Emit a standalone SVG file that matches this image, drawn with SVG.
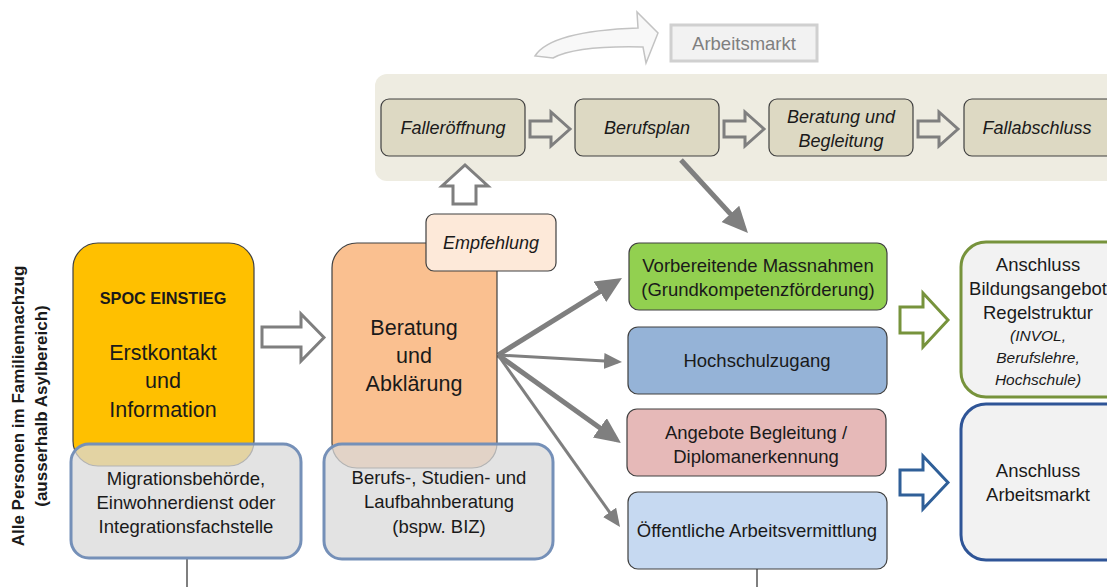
<svg xmlns="http://www.w3.org/2000/svg" width="1107" height="587" viewBox="0 0 1107 587">
<defs>
<style>
text{font-family:"Liberation Sans",Arial,sans-serif;fill:#1a1a1a;text-anchor:middle}
.t{font-size:18.5px}
.big{font-size:21.5px}
.it{font-style:italic;font-size:18px}
.its{font-style:italic;font-size:15.5px}
.proc{fill:#DDD9C3;stroke:#404040;stroke-width:1.2}
.gbox{fill:#D9D9D9;fill-opacity:0.75;stroke:#7590B8;stroke-width:3}
.blk{fill:none;stroke:#7F7F7F;stroke-width:3;stroke-linejoin:miter}
.con{stroke:#7F7F7F;fill:none}
.thick{stroke-width:5}
.thin{stroke-width:3}
</style>
<marker id="hb" markerUnits="userSpaceOnUse" markerWidth="28" markerHeight="26" refX="20" refY="12" orient="auto">
<path d="M0,0 L26,12 L0,24 Z" fill="#7F7F7F"/>
</marker>
<marker id="hs" markerUnits="userSpaceOnUse" markerWidth="20" markerHeight="18" refX="14" refY="8" orient="auto">
<path d="M0,0 L18,8 L0,16 Z" fill="#7F7F7F"/>
</marker>
<path id="parr" d="M0,-8 H21 V-17 L40,0 L21,17 V8 H0 Z"/>
</defs>

<!-- top band -->
<rect x="375" y="74" width="760" height="107" rx="12" fill="#EEECE1"/>

<!-- curved arrow to Arbeitsmarkt -->
<path d="M535,56 C545,40 580,30 638,28 L637,12 L658,33 L646,63 L643,47 C600,46 568,50 553,58 Z" fill="#F8F8F8" stroke="#C3C3C3" stroke-width="1.5"/>

<g id="arbeitsmarkt">
<rect x="671" y="25" width="146" height="36" fill="#F2F2F2" stroke="#D0D0D0" stroke-width="3"/>
<text x="744" y="50" class="t" style="fill:#7F7F7F">Arbeitsmarkt</text>
</g>

<g id="falleroeffnung">
<rect x="381" y="99" width="144" height="57" rx="8" class="proc"/>
<text x="453" y="134" class="it">Falleröffnung</text>
</g>
<g id="berufsplan">
<rect x="575" y="99" width="144" height="57" rx="8" class="proc"/>
<text x="647" y="134" class="it">Berufsplan</text>
</g>
<g id="beratung-begleitung">
<rect x="769" y="99" width="144" height="57" rx="8" class="proc"/>
<text x="841" y="123" class="it">Beratung und</text>
<text x="841" y="147" class="it">Begleitung</text>
</g>
<g id="fallabschluss">
<rect x="964" y="99" width="160" height="57" rx="8" class="proc"/>
<text x="1037" y="134" class="it">Fallabschluss</text>
</g>

<g id="connectors">
<use href="#parr" x="530" y="129" class="blk"/>
<use href="#parr" x="724" y="129" class="blk"/>
<use href="#parr" x="918" y="129" class="blk"/>
<path d="M453,204 V186 H442 L465,165 L488,186 H476 V204 Z" fill="#FFFFFF" stroke="#7F7F7F" stroke-width="3"/>
<path d="M262,327 H301 V314 L324,337.5 L301,361 V347 H262 Z" fill="#FFFFFF" stroke="#7F7F7F" stroke-width="3"/>
<path d="M900,307 H923 V293 L948,320 L923,347 V333 H900 Z" fill="#FFFFFF" stroke="#77933C" stroke-width="3"/>
<path d="M900,470 H923 V456 L948,482.5 L923,509 V495 H900 Z" fill="#FFFFFF" stroke="#2F5F98" stroke-width="3"/>
<line x1="681" y1="160" x2="743.9" y2="228.6" class="con thick" marker-end="url(#hb)"/>
<line x1="498" y1="355" x2="616.9" y2="281.2" class="con thick" marker-end="url(#hb)"/>
<line x1="498" y1="355" x2="618" y2="361.8" class="con thin" marker-end="url(#hs)"/>
<line x1="498" y1="355" x2="616.1" y2="439.5" class="con thick" marker-end="url(#hb)"/>
<line x1="498" y1="355" x2="617.7" y2="523.7" class="con thin" marker-end="url(#hs)"/>
<line x1="187" y1="558" x2="187" y2="587" stroke="#7F7F7F" stroke-width="2"/>
<line x1="757" y1="569" x2="757" y2="587" stroke="#7F7F7F" stroke-width="2"/>
</g>

<g id="side-label">
<text transform="translate(24,406) rotate(-90)" style="font-size:17px;font-weight:bold">Alle Personen im Familiennachzug</text>
<text transform="translate(47,406) rotate(-90)" style="font-size:17px;font-weight:bold">(ausserhalb Asylbereich)</text>
</g>

<g id="spoc">
<rect x="73" y="243" width="181" height="223" rx="25" fill="#FFC000" stroke="#404040" stroke-width="1.2"/>
<text x="163" y="304" style="font-size:16.3px;font-weight:bold">SPOC EINSTIEG</text>
<text x="163" y="360" class="big">Erstkontakt</text>
<text x="163" y="388" class="big">und</text>
<text x="163" y="417" class="big">Information</text>
</g>
<g id="migration">
<rect x="71" y="444" width="230" height="114" rx="18" class="gbox"/>
<text x="186" y="485" class="t">Migrationsbehörde,</text>
<text x="186" y="509" class="t">Einwohnerdienst oder</text>
<text x="186" y="533" class="t">Integrationsfachstelle</text>
</g>

<g id="beratung-abklaerung">
<rect x="332" y="243" width="165" height="225" rx="25" fill="#FAC090" stroke="#404040" stroke-width="1.2"/>
<text x="414" y="335" class="big">Beratung</text>
<text x="414" y="363" class="big">und</text>
<text x="414" y="391" class="big">Abklärung</text>
</g>
<g id="empfehlung">
<rect x="426" y="214" width="130" height="57" rx="8" fill="#FDE9D9" stroke="#404040" stroke-width="1.2"/>
<text x="491" y="249" class="it">Empfehlung</text>
</g>
<g id="bsl">
<rect x="324" y="444" width="229" height="115" rx="18" class="gbox"/>
<text x="439" y="484" class="t">Berufs-, Studien- und</text>
<text x="439" y="508" class="t">Laufbahnberatung</text>
<text x="439" y="533" class="t">(bspw. BIZ)</text>
</g>

<g id="vorbereitende">
<rect x="629" y="243" width="258" height="67" rx="10" fill="#92D050" stroke="#404040" stroke-width="1.2"/>
<text x="758" y="272" class="t">Vorbereitende Massnahmen</text>
<text x="758" y="296" class="t">(Grundkompetenzförderung)</text>
</g>
<g id="hochschulzugang">
<rect x="628" y="327" width="259" height="67" rx="10" fill="#95B3D7" stroke="#404040" stroke-width="1.2"/>
<text x="757" y="367" class="t">Hochschulzugang</text>
</g>
<g id="angebote">
<rect x="627" y="409" width="259" height="67" rx="10" fill="#E6B9B8" stroke="#404040" stroke-width="1.2"/>
<text x="756" y="439" class="t">Angebote Begleitung /</text>
<text x="756" y="463" class="t">Diplomanerkennung</text>
</g>
<g id="oeffentliche">
<rect x="628" y="492" width="259" height="77" rx="10" fill="#C6D9F1" stroke="#404040" stroke-width="1.2"/>
<text x="757" y="537" class="t">Öffentliche Arbeitsvermittlung</text>
</g>

<g id="anschluss-bildung">
<rect x="961" y="242" width="170" height="155" rx="25" fill="#F2F2F2" stroke="#77933C" stroke-width="3"/>
<text x="1038" y="271" class="t">Anschluss</text>
<text x="1038" y="295" class="t">Bildungsangebot</text>
<text x="1038" y="319" class="t">Regelstruktur</text>
<text x="1038" y="341" class="its">(INVOL,</text>
<text x="1038" y="363" class="its">Berufslehre,</text>
<text x="1038" y="385" class="its">Hochschule)</text>
</g>
<g id="anschluss-arbeitsmarkt">
<rect x="961" y="404" width="170" height="156" rx="25" fill="#F2F2F2" stroke="#2F5597" stroke-width="3"/>
<text x="1038" y="477" class="t">Anschluss</text>
<text x="1038" y="501" class="t">Arbeitsmarkt</text>
</g>
</svg>
